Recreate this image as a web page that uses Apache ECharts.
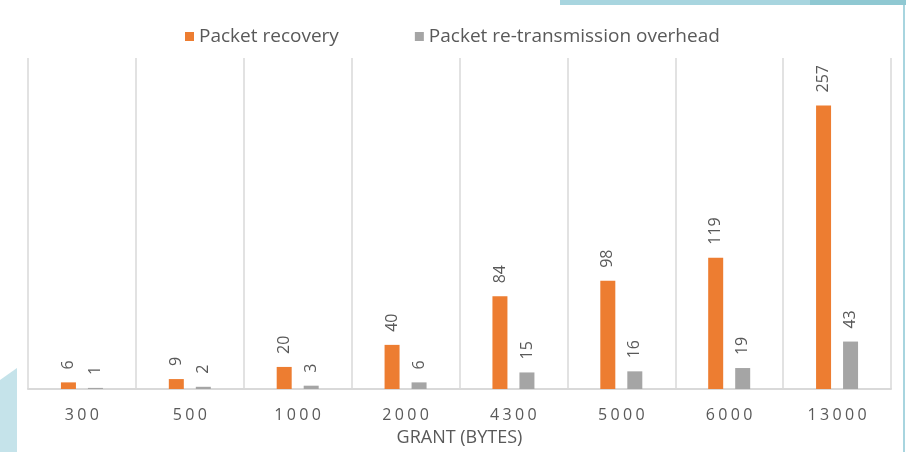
<!DOCTYPE html>
<html>
<head>
<meta charset="utf-8">
<script src="https://cdn.jsdelivr.net/npm/echarts@6/dist/echarts.min.js"></script>
<style>
  html, body { margin: 0; padding: 0; background: #fff; }
  #chart { width: 906px; height: 452px; }
</style>
</head>
<body>
<div id="chart"></div>
<script>
// grant sizes (bytes)
var categories = ['300', '500', '1000', '2000', '4300', '5000', '6000', '13000'];
var recovery = [6, 9, 20, 40, 84, 98, 119, 257];
var overhead = [1, 2, 3, 6, 15, 16, 19, 43];
var seriesNames = ['Packet recovery', 'Packet re-transmission overhead'];
var axisName = 'GRANT (BYTES)';

var textColor = '#595959';
var font = 'Open Sans';

var myChart = echarts.init(document.getElementById('chart'));

function barLabel() {
    return {
        show: true,
        position: 'top',
        rotate: 90,
        align: 'left',
        verticalAlign: 'middle',
        distance: 13,
        color: textColor,
        fontFamily: font,
        fontSize: 16
    };
}

var option = {
    animation: false,
    backgroundColor: '#fff',
    legend: {
        data: seriesNames,
        top: 22,
        left: 180,
        itemWidth: 9,
        itemHeight: 9,
        itemGap: 76,
        icon: 'rect',
        textStyle: { color: textColor, fontFamily: font, fontSize: 19 }
    },
    grid: { left: 28, right: 15, top: 58, bottom: 61 },
    xAxis: {
        type: 'category',
        data: categories,
        name: axisName,
        nameLocation: 'middle',
        nameGap: 40,
        nameTextStyle: { color: textColor, fontFamily: font, fontSize: 18 },
        axisTick: { show: false },
        axisLine: { lineStyle: { color: '#d9d9d9', width: 2 } },
        splitLine: { show: true, interval: 0, lineStyle: { color: '#d9d9d9', width: 1.5 } },
        axisLabel: {
            interval: 0,
            margin: 18,
            // spread the digits out like the original
            formatter: function (v) {
                return v.split('').map(function (c) { return '{d|' + c + '}'; }).join('');
            },
            rich: {
                d: { width: 12.5, align: 'center', color: textColor, fontFamily: font, fontSize: 16 }
            }
        }
    },
    yAxis: {
        type: 'value',
        min: 0,
        max: 300,
        show: false,
        splitLine: { show: false }
    },
    series: [
        {
            name: seriesNames[0],
            type: 'bar',
            data: recovery,
            barWidth: 15,
            barGap: '80%',
            itemStyle: { color: '#ED7D31' },
            label: barLabel()
        },
        {
            name: seriesNames[1],
            type: 'bar',
            data: overhead,
            barWidth: 15,
            itemStyle: { color: '#A5A5A5' },
            label: barLabel()
        }
    ],
    graphic: [
        { type: 'rect', shape: { x: 560, y: 0, width: 250, height: 5 }, style: { fill: '#a8d5df' }, silent: true },
        { type: 'rect', shape: { x: 810, y: 0, width: 96, height: 5 }, style: { fill: '#8fc8d2' }, silent: true },
        { type: 'rect', shape: { x: 903, y: 5, width: 2, height: 447 }, style: { fill: '#a8d5df' }, silent: true },
        { type: 'polygon', shape: { points: [[0, 380], [17, 368], [17, 452], [0, 452]] }, style: { fill: '#c5e3ea' }, silent: true }
    ]
};

window.onresize = myChart.resize;
myChart.setOption(option);
</script>
</body>
</html>
